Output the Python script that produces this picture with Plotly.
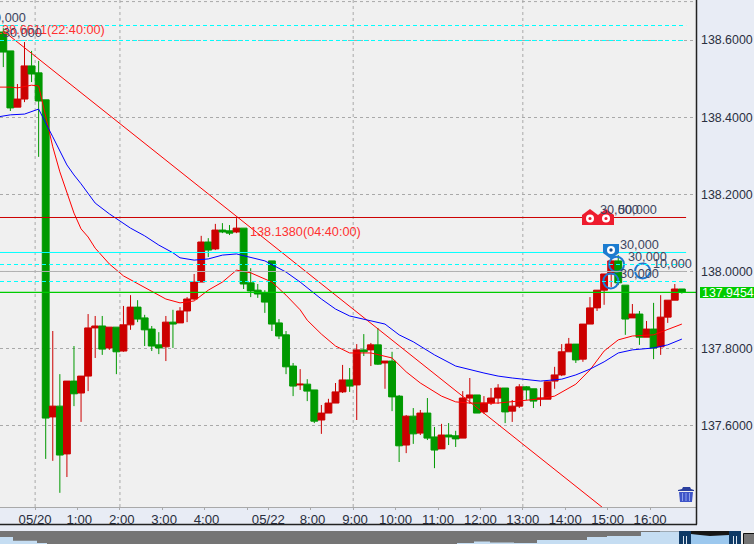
import plotly.graph_objects as go

W, H = 754, 544

# ---------- candle data (10 minute bars) ----------
opens = [138.621,138.572,138.426,138.447,138.533,138.515,138.445,137.622,137.650,137.526,
         137.715,137.684,137.728,137.853,137.858,137.801,137.855,137.793,137.861,137.907,
         137.879,137.850,137.809,137.804,137.868,137.866,137.897,137.928,137.972,138.076,
         138.058,138.107,138.105,138.102,138.112,137.970,137.951,137.944,138.027,137.866,
         137.835,137.754,137.705,137.707,137.692,137.614,137.632,137.658,137.687,137.718,
         137.705,137.796,137.796,137.809,137.762,137.767,137.676,137.549,137.624,137.580,
         137.632,137.570,137.539,137.575,137.573,137.567,137.671,137.679,137.635,137.658,
         137.671,137.697,137.637,137.650,137.700,137.695,137.668,137.668,137.715,137.731,
         137.791,137.811,137.772,137.863,137.905,137.951,137.993,138.027,137.964,137.879,
         137.889,137.829,137.850,137.804,137.881,137.925,137.954]
highs = [138.631,138.572,138.486,138.595,138.572,138.546,138.445,137.845,137.733,137.715,
         137.806,137.728,137.889,137.884,137.884,137.855,137.855,137.910,137.938,137.925,
         137.887,137.858,137.842,137.884,137.900,137.907,137.933,137.993,138.092,138.086,
         138.123,138.125,138.120,138.138,138.112,138.008,137.967,137.951,138.027,137.876,
         137.845,137.762,137.746,137.720,137.692,137.653,137.669,137.710,137.757,137.749,
         137.811,137.837,137.814,137.853,137.767,137.791,137.679,137.627,137.645,137.640,
         137.671,137.596,137.604,137.606,137.586,137.689,137.723,137.679,137.676,137.697,
         137.707,137.697,137.666,137.707,137.702,137.695,137.697,137.713,137.752,137.811,
         137.827,137.811,137.863,137.933,137.951,137.993,138.035,138.042,137.964,137.915,
         137.897,137.871,137.918,137.938,137.925,137.967,137.954]
lows = [138.530,138.416,138.426,138.439,138.491,138.297,137.513,137.508,137.425,137.466,
        137.650,137.609,137.689,137.775,137.783,137.796,137.733,137.791,137.848,137.868,
        137.806,137.793,137.785,137.767,137.801,137.866,137.868,137.925,137.972,138.037,
        138.055,138.099,138.094,138.099,137.954,137.933,137.931,137.892,137.845,137.824,
        137.733,137.676,137.692,137.663,137.606,137.578,137.632,137.658,137.684,137.687,
        137.614,137.780,137.754,137.757,137.695,137.637,137.505,137.528,137.552,137.575,
        137.562,137.489,137.539,137.549,137.544,137.567,137.656,137.632,137.630,137.653,
        137.656,137.606,137.609,137.645,137.666,137.645,137.650,137.668,137.695,137.728,
        137.791,137.762,137.765,137.863,137.897,137.913,137.959,137.964,137.835,137.879,
        137.809,137.829,137.772,137.783,137.866,137.925,137.942]
closes = [138.569,138.424,138.447,138.533,138.512,138.442,137.619,137.650,137.523,137.715,
          137.682,137.728,137.853,137.858,137.798,137.855,137.791,137.861,137.907,137.876,
          137.848,137.806,137.801,137.868,137.863,137.897,137.928,137.972,138.076,138.055,
          138.107,138.102,138.099,138.112,137.967,137.949,137.941,137.920,137.863,137.832,
          137.752,137.702,137.707,137.689,137.611,137.632,137.658,137.687,137.718,137.702,
          137.796,137.791,137.809,137.759,137.767,137.674,137.547,137.624,137.578,137.632,
          137.567,137.536,137.575,137.570,137.565,137.671,137.679,137.632,137.658,137.671,
          137.697,137.635,137.650,137.700,137.692,137.663,137.671,137.713,137.731,137.791,
          137.811,137.770,137.863,137.905,137.951,137.993,138.027,137.970,137.876,137.889,
          137.829,137.850,137.801,137.881,137.925,137.954,137.9454]

# ---------- indicators ----------
fast_idx = [-1,1,2,4,5,6,7,8,9,10,11,12,13,15,17,20,23,25,27,29,31,33,35,38,40,42,43,45,47,49,
            52,55,57,59,62,64,66,70,74,76,78,81,83,85,87,89,92,94,96]
fast_val = [138.478,138.478,138.476,138.483,138.481,138.398,138.323,138.258,138.203,138.151,
            138.110,138.089,138.060,138.019,137.988,137.959,137.928,137.918,137.923,137.951,
            137.972,138.003,137.996,137.972,137.938,137.900,137.873,137.837,137.806,137.788,
            137.788,137.775,137.739,137.710,137.676,137.661,137.658,137.658,137.666,137.669,
            137.676,137.707,137.744,137.793,137.822,137.832,137.835,137.848,137.863]
slow_idx = [-1,1,3,5,7,9,10,11,13,15,18,20,22,24,25,27,29,31,33,35,37,40,42,45,47,49,52,54,56,58,
            61,64,68,70,72,76,79,81,83,85,87,89,92,94,96]
slow_val = [138.400,138.406,138.408,138.421,138.349,138.276,138.250,138.227,138.177,138.149,
            138.112,138.092,138.068,138.048,138.035,138.029,138.032,138.042,138.045,138.037,
            138.027,137.998,137.972,137.928,137.902,137.884,137.871,137.863,137.835,137.817,
            137.783,137.754,137.736,137.728,137.723,137.715,137.720,137.731,137.746,137.765,
            137.788,137.796,137.801,137.809,137.824]
trend_idx = [0, 84.7]
trend_val = [138.624, 137.388]

# ---------- price lines ----------
last_price = 137.9454
high_line = 138.1396
round_line = 137.9995
cyan_solid = [138.0488]
cyan_dashed = [138.6379, 138.599, 138.0176, 137.9735]
line_end = 96.6

# ---------- trades ----------
circle_idx = [86.76, 85.95, 90.44]
circle_val = [138.018, 137.975, 138.001]

# ---------- axes ----------
tick_pos = [4.5,10.5,16.5,22.5,28.5,34.5,37.5,43.5,49.5,55.5,61.5,67.5,73.5,79.5,85.5,91.5]
tick_txt = ["05/20","\u00a01:00","\u00a02:00","\u00a03:00","\u00a04:00","","05/22","\u00a08:00","\u00a09:00",
            "10:00","11:00","12:00","13:00","14:00","15:00","16:00"]
vgrid_pos = [4.5,16.5,49.5,73.5]
y_ticks = [137.6,137.8,138.0,138.2,138.4,138.6]
y_min, y_max = 137.3882, 138.7041
x_min, x_max = -0.467, 98.0

# ---------- navigator strip ----------
nav_pos = [0,12,13,36,37,46,47,456,457,474,490,514,537,557,587,607,641,660,679]
nav_level = [7,7,3.3,3.3,1,1,0,0,1,2.5,1.5,1,4,4,7,8,12,12.5,13]

FONT = "Liberation Sans"
GRID = "#A9A9A9"
PANEL = "#E8ECF5"
TICK = "#2A2F40"
x_count = list(range(len(opens)))


def px(x):
    return x / W


def py(y):
    return 1 - y / H


def rect(x0, y0, x1, y1, fill, line=None, layer="above"):
    return dict(type="rect", xref="paper", yref="paper", x0=px(x0), x1=px(x1), y0=py(y0), y1=py(y1),
                fillcolor=fill, line=dict(width=1 if line else 0, color=line or fill), layer=layer)


def poly(points, fill):
    d = "M" + " L".join(f"{px(a):.5f},{py(b):.5f}" for a, b in points) + " Z"
    return dict(type="path", xref="paper", yref="paper", path=d, fillcolor=fill, line=dict(width=0), layer="above")


def disc(cx, cy, r, fill):
    return dict(type="circle", xref="paper", yref="paper", x0=px(cx - r), x1=px(cx + r),
                y0=py(cy - r), y1=py(cy + r), fillcolor=fill, line=dict(width=0), layer="above")


def note(x, y, text, color="#3C4560", size=12.7):
    return dict(xref="paper", yref="paper", x=px(x), y=py(y), text=text, showarrow=False,
                xanchor="left", yanchor="middle", borderpad=0, borderwidth=0,
                font=dict(family=FONT, size=size, color=color))


fig = go.Figure()
fig.add_trace(go.Candlestick(
    x=x_count, open=opens, high=highs, low=lows, close=closes,
    increasing=dict(line=dict(color="#CC0000", width=1), fillcolor="#CC0000"),
    decreasing=dict(line=dict(color="#009900", width=1), fillcolor="#009900"),
    whiskerwidth=0, hoverinfo="skip", showlegend=False))
fig.add_trace(go.Scatter(x=trend_idx, y=trend_val, mode="lines", line=dict(color="#FF0000", width=1), showlegend=False))
fig.add_trace(go.Scatter(x=fast_idx, y=fast_val, mode="lines", line=dict(color="#FF0000", width=1), showlegend=False))
fig.add_trace(go.Scatter(x=slow_idx, y=slow_val, mode="lines", line=dict(color="#0000FF", width=1), showlegend=False))
fig.add_trace(go.Scatter(x=circle_idx, y=circle_val, mode="markers",
                         marker=dict(symbol="circle-open", size=15, color="#1E78D0", line=dict(color="#1E78D0", width=2)),
                         showlegend=False))
fig.add_trace(go.Scatter(x=nav_pos, y=nav_level, xaxis="x2", yaxis="y2", mode="lines", fill="tozeroy",
                         line=dict(color="#C5DDF2", width=0, shape="hv"), fillcolor="#C5DDF2", showlegend=False))

shapes = []
# navigator background below the traces
shapes.append(rect(0, 531, 680, 544, "#757575", layer="below"))
# vertical grid
for v in vgrid_pos:
    shapes.append(dict(type="line", xref="x", yref="paper", x0=v, x1=v, y0=py(507), y1=1, layer="below",
                       line=dict(color=GRID, width=1, dash="3px,3px")))
shapes.append(dict(type="line", xref="paper", yref="y", x0=0, x1=px(696), y0=138.7, y1=138.7, layer="below",
                   line=dict(color=GRID, width=1, dash="3px,3px")))
# price lines
shapes.append(dict(type="line", xref="x", yref="y", x0=x_min, x1=line_end, y0=round_line, y1=round_line,
                   line=dict(color="#B0B0B0", width=1)))
for v in cyan_dashed:
    shapes.append(dict(type="line", xref="x", yref="y", x0=x_min, x1=line_end, y0=v, y1=v,
                       line=dict(color="#00FFFF", width=1, dash="4px,3px")))
for v in cyan_solid:
    shapes.append(dict(type="line", xref="x", yref="y", x0=x_min, x1=line_end, y0=v, y1=v,
                       line=dict(color="#00FFFF", width=1)))
shapes.append(dict(type="line", xref="x", yref="y", x0=x_min, x1=line_end, y0=high_line, y1=high_line,
                   line=dict(color="#CC0000", width=1)))
shapes.append(dict(type="line", xref="x", yref="y", x0=x_min, x1=x_max, y0=last_price, y1=last_price,
                   line=dict(color="#00CC00", width=1.2)))
# frame
shapes.append(dict(type="line", xref="paper", yref="paper", x0=px(696.5), x1=px(696.5), y0=py(524.5), y1=1,
                   line=dict(color="#222222", width=1.5)))
shapes.append(dict(type="line", xref="paper", yref="paper", x0=0, x1=px(697), y0=py(524.5), y1=py(524.5),
                   line=dict(color="#222222", width=1.5)))
# last price tag
shapes.append(rect(700, 287, 754, 298, "#00CC00"))
# order icons
for dx in (0, 16):
    shapes.append(poly([(582 + dx, 225), (582 + dx, 215), (590 + dx, 209), (598 + dx, 215), (598 + dx, 225)], "#EE1C2E"))
    shapes.append(disc(590 + dx, 218.5, 4, "#FFFFFF"))
    shapes.append(disc(590 + dx, 218.5, 1.6, "#EE1C2E"))
shapes.append(poly([(603, 244), (619, 244), (619, 253), (611, 259), (603, 253)], "#1C7CD0"))
shapes.append(disc(611, 250, 4, "#FFFFFF"))
shapes.append(disc(611, 250, 1.7, "#1A4F90"))
# trash icon
shapes.append(poly([(683, 487), (690, 487), (691, 489), (694, 490), (694, 491), (678, 491), (678, 490), (682, 489)], "#2B3F9E"))
shapes.append(poly([(679, 492), (693, 492), (692, 502), (680, 502)], "#3F55C8"))
for sx in (682.5, 686, 689.5):
    shapes.append(rect(sx - 0.5, 493, sx + 0.5, 501, "#8EA0EA"))
# navigator selection
shapes.append(rect(691, 531, 729, 544, "#9CC8EE"))
shapes.append(poly([(691, 531), (729, 531), (729, 535), (710, 536), (700, 535), (691, 534)], "#161616"))
for hx in (679, 729):
    shapes.append(rect(hx, 531, hx + 12, 544, "#0F3A66"))
    shapes.append(rect(hx + 4, 536, hx + 5, 544, "#DDE6F0"))
    shapes.append(rect(hx + 7, 536, hx + 8, 544, "#DDE6F0"))
shapes.append(rect(743.5, 533.5, 756, 546, "#757575", line="#111111"))

annotations = [
    note(250, 232, "138.1380(04:40:00)", "#FF3030"),
    note(-5, 30, "138.6611(22:40:00)", "#FF3030"),
    note(-13, 18, "30,000"),
    note(3, 33, "30,000"),
]
for x, y, t in [(600, 210, "30,000"), (618, 210, "50,000"), (620, 245, "30,000"), (628, 257, "30,000"),
                (652.5, 264, "10,000"), (620, 274, "30,000")]:
    annotations.append(note(x, y, t))
annotations.append(note(702, 292.5, f"{last_price:.4f}", "#FFFFFF", 12.4))

fig.update_layout(
    width=W, height=H, autosize=False, margin=dict(l=0, r=0, t=0, b=0, pad=0),
    paper_bgcolor=PANEL, plot_bgcolor="#F0F0F0", showlegend=False, boxgap=0.03, boxgroupgap=0,
    font=dict(family=FONT, size=12, color=TICK),
    shapes=shapes, annotations=annotations,
    xaxis=dict(domain=[0, 696 / W], range=[x_min, x_max], tickmode="array", tickvals=tick_pos, ticktext=tick_txt,
               showgrid=False, zeroline=False, showline=True, linecolor=GRID, linewidth=1, ticks="outside",
               ticklen=2, tickcolor=GRID, rangeslider=dict(visible=False), anchor="y", ticklabelstandoff=-2,
               tickfont=dict(family=FONT, size=13.2, color=TICK)),
    yaxis=dict(domain=[37 / H, 1], range=[y_min, y_max], side="right", anchor="x", tickmode="array",
               tickvals=y_ticks, ticktext=[f"{v:.4f}" for v in y_ticks], showgrid=True, gridcolor=GRID,
               griddash="3px,3px", gridwidth=1, zeroline=False, showline=False, ticks="",
               ticklabelstandoff=4, tickfont=dict(family=FONT, size=12.4, color=TICK)),
    xaxis2=dict(domain=[0, 1], range=[0, W], visible=False, anchor="y2"),
    yaxis2=dict(domain=[0, 13 / H], range=[0, 13], visible=False, anchor="x2"),
)

fig.write_html("out.html", config={"displayModeBar": False},
               post_script="document.body.style.margin='0';document.documentElement.style.overflow='hidden';")
